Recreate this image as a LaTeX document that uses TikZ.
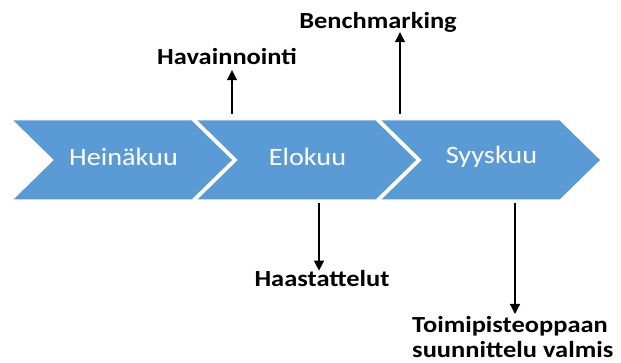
\documentclass[tikz,border=0pt]{standalone}
\usepackage{fontspec}
\setmainfont{Carlito}
\newfontfamily\monthfont[FakeStretch=1.13]{Carlito}
\newfontfamily\labelfont[FakeStretch=1.15]{Carlito Bold}
\usetikzlibrary{arrows.meta}
\definecolor{chev}{HTML}{5B9BD5}
\begin{document}
\begin{tikzpicture}[x=1pt,y=-1pt,
  chevron/.style={fill=chev, draw=white, line width=1pt},
  month/.style={text=white, font=\monthfont\fontsize{25}{30}\selectfont, inner sep=0pt},
  lab/.style={font=\labelfont\fontsize{23}{25}\selectfont, inner sep=0pt, text depth=0pt},
  arr/.style={-{Triangle[width=10pt,length=10pt]}, line width=1.2pt, black}]
\useasboundingbox (0,0) rectangle (621,363);
\foreach \x/\n/\t in {12/m1/Heinäkuu, 196/m2/Elokuu, 380/m3/Syyskuu} {
  \draw[chevron] (\x,120) -- (\x+180,120) -- (\x+221,160) -- (\x+180,200) -- (\x,200) -- (\x+41,160) -- cycle;
  \node[month] (\n) at (\x+111.5,157) {\t};
}
\node[lab, anchor=base] (hav) at (227,65) {Havainnointi};
\node[lab, anchor=base] (ben) at (378,29) {Benchmarking};
\node[lab, anchor=base] (haa) at (322,287) {Haastattelut};
\node[lab, anchor=north west, align=left] (toi) at (412,316) {Toimipisteoppaan\\suunnittelu valmis};
\coordinate (u1) at (232,114);
\coordinate (u2) at (400,114);
\coordinate (d1) at (319,203);
\coordinate (d2) at (515,203);
\draw[arr, shorten >=5pt] (u1) -- (u1 |- hav.south);
\draw[arr, shorten >=3pt] (u2) -- (u2 |- ben.south);
\draw[arr] (d1) -- (d1 |- haa.north);
\draw[arr, shorten >=2pt] (d2) -- (d2 |- toi.north);
\end{tikzpicture}
\end{document}
